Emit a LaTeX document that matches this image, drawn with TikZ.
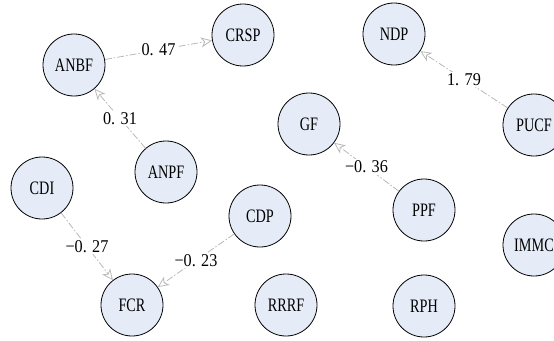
\documentclass[tikz,border=0pt]{standalone}
\usepackage{fontspec}
\setmainfont{Liberation Serif}
\newfontfamily\nodefont[FakeStretch=0.75]{Liberation Serif}
\newfontfamily\lblfont[FakeStretch=0.9]{Liberation Serif}
\usetikzlibrary{arrows.meta}
\definecolor{nodefill}{RGB}{230,236,247}
\definecolor{edgecol}{RGB}{185,185,185}
\tikzset{
  var/.style={circle, draw=black, line width=0.8pt, fill=nodefill, minimum size=62pt, inner sep=0pt, font=\nodefont\fontsize{19}{19}\selectfont},
  edge/.style={draw=edgecol, line width=0.8pt, dash pattern=on 7pt off 2pt on 1.5pt off 2pt, -{Stealth[open, length=11pt, width=10pt, inset=3pt]}},
  lbl/.style={fill=white, inner sep=1.5pt, text=black, font=\lblfont\fontsize{18}{18}\selectfont, pos=0.5}
}
\begin{document}
\begin{tikzpicture}[x=1pt, y=-1pt]
\useasboundingbox (0,0) rectangle (554,340);
\node[var] (ANBF) at (74,65) {ANBF};
\node[var] (CRSP) at (243,35) {CRSP};
\node[var] (NDP) at (394,34) {NDP};
\node[var] (GF) at (309,124) {GF};
\node[var] (PUCF) at (534,125) {PUCF};
\node[var] (ANPF) at (166,172) {ANPF};
\node[var] (CDI) at (42,188) {CDI};
\node[var] (CDP) at (260,216) {CDP};
\node[var] (PPF) at (424,210) {PPF};
\node[var] (IMMC) at (534,245) {IMMC};
\node[var] (FCR) at (132,305) {FCR};
\node[var] (RRRF) at (286,305) {RRRF};
\node[var] (RPH) at (424,306) {RPH};
\draw[edge] (ANBF) -- node[lbl] {0. 47} (CRSP);
\draw[edge] (ANPF) -- node[lbl] {0. 31} (ANBF);
\draw[edge] (CDI) -- node[lbl] {−0. 27} (FCR);
\draw[edge] (CDP) -- node[lbl] {−0. 23} (FCR);
\draw[edge] (PPF) -- node[lbl] {−0. 36} (GF);
\draw[edge] (PUCF) -- node[lbl] {1. 79} (NDP);
\end{tikzpicture}
\end{document}
